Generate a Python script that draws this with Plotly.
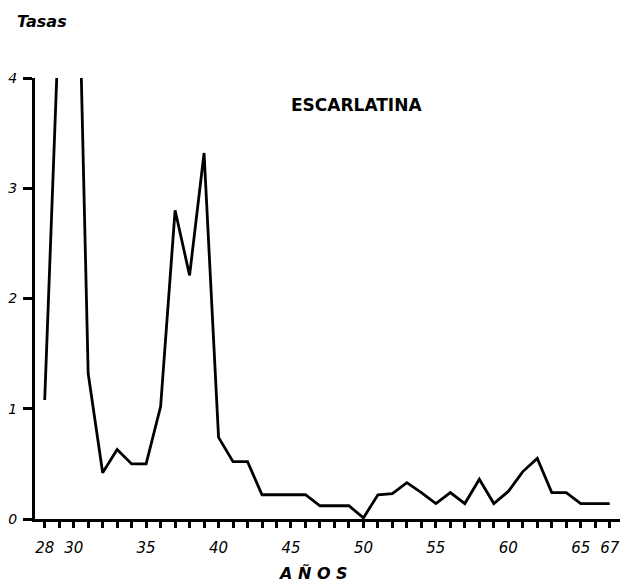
import plotly.graph_objects as go

# Data (years 1928-1967, rates)
years = list(range(28, 68))
tasas = [1.08, 4.6, 7.0, 1.32, 0.42, 0.63, 0.50, 0.50, 1.02, 2.80,
         2.21, 3.32, 0.74, 0.52, 0.52, 0.22, 0.22, 0.22, 0.22, 0.12,
         0.12, 0.12, 0.01, 0.22, 0.23, 0.33, 0.24, 0.14, 0.24, 0.14,
         0.36, 0.14, 0.25, 0.43, 0.55, 0.24, 0.24, 0.14, 0.14, 0.14]

x_labels = {28: "28", 30: "30", 35: "35", 40: "40", 45: "45",
            50: "50", 55: "55", 60: "60", 65: "65", 67: "67"}
y_ticks = [0, 1, 2, 3, 4]

title_text = "ESCARLATINA"
y_title = "Tasas"
x_title = "A Ñ O S"

# page offset (default body margin) and target page-pixel layout
OFF = 8
PAGE_W, PAGE_H = 638, 586
W, H = PAGE_W - OFF, PAGE_H - OFF
PL, PR, PT, PB = 35, 620, 78, 519          # plot area in page pixels
L, R, T, B = PL - OFF, PAGE_W - PR, PT - OFF, PAGE_H - PB
pw, ph = PR - PL, PB - PT

def px(xp):
    return (xp - PL) / pw

def py(yp):
    return (PB - yp) / ph

fig = go.Figure()
fig.add_trace(go.Scatter(
    x=years, y=tasas, mode="lines",
    line=dict(color="black", width=2.8),
    showlegend=False, hoverinfo="skip",
))

fig.update_layout(
    width=W, height=H,
    margin=dict(l=L, r=R, t=T, b=B, pad=0, autoexpand=False),
    paper_bgcolor="white", plot_bgcolor="white",
    font=dict(family="DejaVu Sans", color="black"),
    xaxis=dict(
        range=[27.33, 67.71],
        tickmode="array",
        tickvals=years,
        ticktext=[x_labels.get(y, "") for y in years],
        ticks="outside", ticklen=6, tickwidth=2.5, tickcolor="black",
        showline=True, linecolor="black", linewidth=3,
        showgrid=False, zeroline=False, automargin=False,
        tickfont=dict(size=15, style="italic", color="black"),
        ticklabelstandoff=7,
    ),
    yaxis=dict(
        range=[0, 4],
        tickmode="array", tickvals=y_ticks,
        ticktext=[str(v) for v in y_ticks],
        ticks="outside", ticklen=9, tickwidth=2.5, tickcolor="black",
        showline=True, linecolor="black", linewidth=3,
        showgrid=False, zeroline=False, automargin=False,
        tickfont=dict(size=14, style="italic", color="black"),
        ticklabelstandoff=3,
    ),
    annotations=[
        dict(text=y_title, xref="paper", yref="paper", x=px(15), y=py(21),
             xanchor="left", yanchor="middle", showarrow=False,
             font=dict(size=16, style="italic", weight="bold", color="black")),
        dict(text=title_text, xref="paper", yref="paper", x=px(356), y=py(105),
             xanchor="center", yanchor="middle", showarrow=False,
             font=dict(size=17, weight="bold", color="black")),
        dict(text=x_title, xref="paper", yref="paper", x=px(313), y=py(573),
             xanchor="center", yanchor="middle", showarrow=False,
             font=dict(size=16, style="italic", weight="bold", color="black")),
    ],
)

fig.write_html("out.html")
